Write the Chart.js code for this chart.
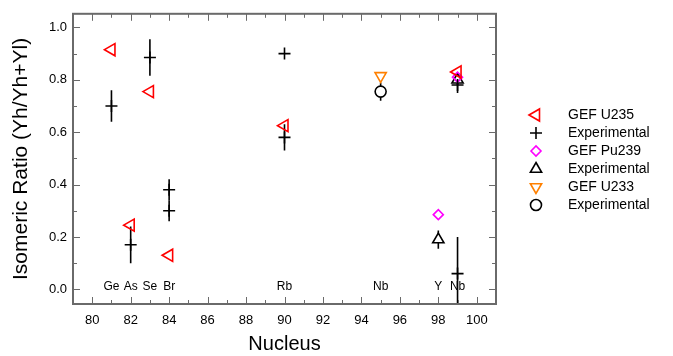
<!DOCTYPE html>
<html>
<head>
<meta charset="utf-8">
<script src="https://cdn.jsdelivr.net/npm/chart.js@4.4.0/dist/chart.umd.min.js"></script>
<style>
  html, body { margin: 0; padding: 0; background: #fff; }
  #caixa { width: 673px; height: 356px; }
</style>
</head>
<body>
<div id="caixa"><canvas id="grafico"></canvas></div>
<script>
// dados
const u235X = [81, 82, 83, 84, 90, 99];
const u235Y = [0.915, 0.245, 0.755, 0.13, 0.625, 0.83];

const expX = [81, 82, 83, 84, 84, 90, 90, 99, 99];
const expY = [0.70, 0.17, 0.885, 0.38, 0.30, 0.90, 0.58, 0.78, 0.06];
const expErr = [0.06, 0.07, 0.07, 0.04, 0.04, 0, 0.05, 0.03, 0.14];

const pu239X = [98, 99];
const pu239Y = [0.285, 0.81];

const expTriX = [98, 99];
const expTriY = [0.19, 0.80];
const expTriErr = [0.035, 0.02];

const u233X = [95];
const u233Y = [0.815];

const expCircX = [95];
const expCircY = [0.755];
const expCircErr = [0.035];

const elementNames = ["Ge", "As", "Se", "Br", "Rb", "Nb", "Y", "Nb"];
const elementX = [81, 82, 83, 84, 90, 95, 98, 99];

const xTicks = [80, 82, 84, 86, 88, 90, 92, 94, 96, 98, 100];
const yTicks = [0, 0.2, 0.4, 0.6, 0.8, 1.0];

const fonte = "'Liberation Sans', Arial, sans-serif";

function pontos(xs, ys) {
  return xs.map((x, i) => ({ x: x, y: ys[i] }));
}

function serie(label, xs, ys, cor, estilo, rot, raio, fundo, erros) {
  return {
    label: label,
    data: pontos(xs, ys),
    erros: erros,
    borderColor: cor,
    backgroundColor: fundo,
    pointStyle: estilo,
    pointRotation: rot,
    pointRadius: raio,
    pointHoverRadius: raio,
    pointBorderWidth: 1.6,
    showLine: false
  };
}

const datasets = [
  serie("GEF U235", u235X, u235Y, "#ff0000", "triangle", -90, 7, "rgba(0,0,0,0)", null),
  serie("Experimental", expX, expY, "#000000", "cross", 0, 6, "rgba(0,0,0,0)", expErr),
  serie("GEF Pu239", pu239X, pu239Y, "#ff00ff", "rectRot", 0, 5, "rgba(0,0,0,0)", null),
  serie("Experimental", expTriX, expTriY, "#000000", "triangle", 0, 6.5, "#ffffff", expTriErr),
  serie("GEF U233", u233X, u233Y, "#ff8000", "triangle", 180, 6.5, "rgba(0,0,0,0)", null),
  serie("Experimental", expCircX, expCircY, "#000000", "circle", 0, 5.5, "#ffffff", expCircErr)
];

const moldura = {
  id: "moldura",
  beforeDatasetsDraw(chart) {
    const ctx = chart.ctx, a = chart.chartArea;
    const xs = chart.scales.x, ys = chart.scales.y;
    ctx.save();
    // nomes dos elementos
    ctx.fillStyle = "#000";
    ctx.font = "12px " + fonte;
    ctx.textAlign = "center";
    ctx.textBaseline = "middle";
    elementNames.forEach((nome, i) => {
      ctx.fillText(nome, xs.getPixelForValue(elementX[i]), ys.getPixelForValue(0.012));
    });
    // barras de erro
    ctx.beginPath();
    ctx.rect(a.left, a.top, a.right - a.left, a.bottom - a.top);
    ctx.clip();
    ctx.strokeStyle = "#000";
    ctx.lineWidth = 1.6;
    chart.data.datasets.forEach((ds) => {
      if (!ds.erros) return;
      ds.data.forEach((p, i) => {
        const e = ds.erros[i];
        if (!e) return;
        const px = xs.getPixelForValue(p.x);
        ctx.beginPath();
        ctx.moveTo(px, ys.getPixelForValue(p.y - e));
        ctx.lineTo(px, ys.getPixelForValue(p.y + e));
        ctx.stroke();
      });
    });
    ctx.restore();
  },
  afterDraw(chart) {
    const ctx = chart.ctx, a = chart.chartArea;
    const xs = chart.scales.x, ys = chart.scales.y;
    ctx.save();
    ctx.strokeStyle = "#6a6a6a";
    ctx.lineWidth = 1;
    ctx.beginPath();
    for (let v = 80; v <= 100; v++) {
      const px = Math.round(xs.getPixelForValue(v)) + 0.5;
      const len = v % 2 === 0 ? 7 : 4;
      ctx.moveTo(px, a.bottom); ctx.lineTo(px, a.bottom - len);
      ctx.moveTo(px, a.top); ctx.lineTo(px, a.top + len);
    }
    for (let k = 0; k <= 10; k++) {
      const py = Math.round(ys.getPixelForValue(k / 10)) + 0.5;
      const len = k % 2 === 0 ? 7 : 4;
      ctx.moveTo(a.left, py); ctx.lineTo(a.left + len, py);
      ctx.moveTo(a.right, py); ctx.lineTo(a.right - len, py);
    }
    ctx.stroke();
    ctx.lineWidth = 2;
    ctx.strokeRect(a.left, a.top, a.right - a.left, a.bottom - a.top);

    // legenda
    const simX = a.right + 40, textoX = a.right + 72;
    ctx.font = "14px " + fonte;
    ctx.textAlign = "left";
    ctx.textBaseline = "middle";
    chart.data.datasets.forEach((ds, i) => {
      const y = 115 + i * 18;
      ctx.strokeStyle = ds.borderColor;
      ctx.fillStyle = ds.backgroundColor;
      ctx.lineWidth = 1.6;
      Chart.helpers.drawPoint(ctx, {
        pointStyle: ds.pointStyle,
        rotation: ds.pointRotation,
        radius: ds.pointRadius,
        borderWidth: 1.6
      }, simX, y);
      ctx.fillStyle = "#000";
      ctx.fillText(ds.label, textoX, y);
    });
    ctx.restore();
  }
};

new Chart(document.getElementById("grafico"), {
  type: "scatter",
  data: { datasets: datasets },
  options: {
    responsive: true,
    maintainAspectRatio: false,
    animation: false,
    layout: { padding: { top: 8, right: 177, left: 0, bottom: 0 } },
    plugins: {
      legend: { display: false },
      tooltip: { enabled: false }
    },
    scales: {
      x: {
        type: "linear",
        min: 79,
        max: 101,
        grid: { display: false, drawTicks: false },
        border: { display: false },
        afterBuildTicks: (s) => { s.ticks = xTicks.map((v) => ({ value: v })); },
        afterFit: (s) => { s.height = 52; },
        ticks: { color: "#000", padding: 9, maxRotation: 0, font: { size: 13, family: fonte } },
        title: { display: true, text: "Nucleus", color: "#000", padding: { top: 0, bottom: 0 }, font: { size: 20, family: fonte } }
      },
      y: {
        min: -0.056,
        max: 1.052,
        grid: { display: false, drawTicks: false },
        border: { display: false },
        afterBuildTicks: (s) => { s.ticks = yTicks.map((v) => ({ value: v })); },
        afterFit: (s) => { s.width = 73; },
        ticks: {
          color: "#000",
          padding: 6,
          font: { size: 13, family: fonte },
          callback: (v) => Number(v).toFixed(1)
        },
        title: { display: true, text: "Isomeric Ratio (Yh/Yh+Yl)", color: "#000", padding: { top: 9, bottom: 0 }, font: { size: 21, family: fonte } }
      }
    }
  },
  plugins: [moldura]
});
</script>
</body>
</html>
